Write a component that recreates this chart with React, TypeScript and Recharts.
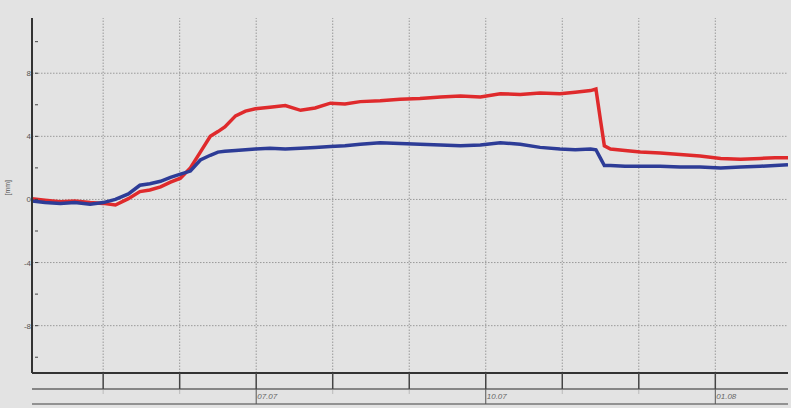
import { ComposedChart, Line, XAxis, YAxis, ReferenceLine } from 'recharts';

// time in days counted from 04.07 (1 = 05.07 ... 9 = 13.07)
const times = [
  0.07, 0.24, 0.44, 0.63, 0.83, 1.0, 1.16, 1.33, 1.48, 1.61, 1.75, 1.88, 2.01, 2.14, 2.27, 2.4, 2.5, 2.59,
  2.73, 2.86, 2.99, 3.18, 3.38, 3.58, 3.77, 3.97, 4.16, 4.36, 4.62, 4.88, 5.14, 5.41, 5.67, 5.93, 6.19,
  6.45, 6.71, 6.97, 7.17, 7.37, 7.44, 7.5, 7.55, 7.63, 7.82, 8.02, 8.28, 8.54, 8.8, 9.07, 9.33, 9.59,
  9.78, 9.95,
];
const redSeries = [
  0.05, -0.05, -0.15, -0.1, -0.2, -0.25, -0.35, 0.05, 0.5, 0.6, 0.8, 1.1, 1.35, 2.0, 3.0, 4.0, 4.3, 4.6,
  5.3, 5.6, 5.75, 5.85, 5.95, 5.65, 5.8, 6.1, 6.05, 6.2, 6.25, 6.35, 6.4, 6.5, 6.55, 6.5, 6.7,
  6.65, 6.75, 6.7, 6.8, 6.9, 7.0, 5.0, 3.4, 3.2, 3.1, 3.0, 2.95, 2.85, 2.75, 2.6, 2.55, 2.6,
  2.65, 2.65,
];
const blueSeries = [
  -0.1, -0.2, -0.25, -0.2, -0.3, -0.2, 0.0, 0.35, 0.9, 1.0, 1.15, 1.4, 1.6, 1.8, 2.5, 2.8, 3.0, 3.05,
  3.1, 3.15, 3.2, 3.25, 3.2, 3.25, 3.3, 3.35, 3.4, 3.5, 3.6, 3.55, 3.5, 3.45, 3.4, 3.45, 3.6,
  3.5, 3.3, 3.2, 3.15, 3.2, 3.15, 2.6, 2.15, 2.15, 2.1, 2.1, 2.1, 2.05, 2.05, 2.0, 2.05, 2.1,
  2.15, 2.2,
];
const dayTicks = [1, 2, 3, 4, 5, 6, 7, 8, 9];
const dayLabels: Record<number, string> = { 3: '07.07', 6: '10.07', 9: '01.08' };
const yTicks = [-10, -8, -6, -4, -2, 0, 2, 4, 6, 8, 10];
const yGrid = [-8, -4, 0, 4, 8];

const data = times.map((t, i) => ({ t, red: redSeries[i], blue: blueSeries[i] }));

const FONT = '"Liberation Sans", Arial, sans-serif';
const X_DOMAIN = [0.07, 9.95];

const YTick = ({ x, y, payload }: any) => {
  const v = payload.value;
  return (
    <g>
      <line x1={x + 3} x2={x + 6} y1={y} y2={y} stroke="#444" strokeWidth={1} />
      {v % 4 === 0 && (
        <text x={x - 1} y={y + 3} textAnchor="end" fontSize={8} fill="#555" fontFamily={FONT}>
          {v}
        </text>
      )}
    </g>
  );
};

const RowTick = ({ x, y }: any) => (
  <line x1={x} x2={x} y1={y} y2={y + 16} stroke="#444" strokeWidth={1.5} />
);

const LabelTick = ({ x, y, payload }: any) => {
  const label = dayLabels[payload.value];
  return (
    <g>
      {label ? (
        <>
          <line x1={x} x2={x} y1={y} y2={y + 15} stroke="#555" strokeWidth={1} />
          <text x={x + 1} y={y + 10} fontSize={8} fill="#666" fontStyle="italic" fontFamily={FONT}>
            {label}
          </text>
        </>
      ) : (
        <line x1={x} x2={x} y1={y + 1} y2={y + 5} stroke="#bbb" strokeWidth={1} />
      )}
    </g>
  );
};

export default function App() {
  return (
    <div style={{ position: 'absolute', left: 0, top: 0, width: 791, height: 408, background: '#e3e3e3' }}>
      <ComposedChart width={791} height={408} data={data} margin={{ top: 18, right: 3, bottom: 2, left: 6 }}>
        {dayTicks.map((d) => (
          <ReferenceLine key={'v' + d} x={d} xAxisId="a" stroke="#9a9a9a" strokeDasharray="1.5 1.5" />
        ))}
        {yGrid.map((v) => (
          <ReferenceLine key={'h' + v} y={v} xAxisId="a" stroke="#9a9a9a" strokeDasharray="1.5 1.5" />
        ))}
        {/* axes stack by id: a = tick row, b = label row, c = bottom rule */}
        <XAxis
          xAxisId="a"
          dataKey="t"
          type="number"
          domain={X_DOMAIN}
          ticks={dayTicks}
          height={16}
          tickSize={0}
          tickMargin={0}
          tickLine={false}
          axisLine={{ stroke: '#333', strokeWidth: 2 }}
          tick={<RowTick />}
          allowDataOverflow
        />
        <XAxis
          xAxisId="b"
          dataKey="t"
          type="number"
          domain={X_DOMAIN}
          ticks={dayTicks}
          height={15}
          tickSize={0}
          tickMargin={0}
          tickLine={false}
          axisLine={{ stroke: '#666', strokeWidth: 1.5 }}
          tick={<LabelTick />}
          allowDataOverflow
        />
        <XAxis
          xAxisId="c"
          dataKey="t"
          type="number"
          domain={X_DOMAIN}
          height={2}
          tick={false}
          tickLine={false}
          axisLine={{ stroke: '#777', strokeWidth: 1.5 }}
          allowDataOverflow
        />
        <YAxis
          type="number"
          domain={[-11, 11.5]}
          ticks={yTicks}
          width={26}
          tickSize={0}
          tickMargin={0}
          tickLine={false}
          axisLine={{ stroke: '#333', strokeWidth: 2 }}
          tick={<YTick />}
          allowDataOverflow
          label={{ value: '[mm]', angle: -90, position: 'insideLeft', offset: 2, fontSize: 7, fill: '#555', fontFamily: FONT }}
        />
        <Line
          xAxisId="a"
          dataKey="red"
          stroke="#df2a2c"
          strokeWidth={3.5}
          dot={false}
          type="linear"
          isAnimationActive={false}
        />
        <Line
          xAxisId="a"
          dataKey="blue"
          stroke="#2d3c97"
          strokeWidth={3.5}
          dot={false}
          type="linear"
          isAnimationActive={false}
        />
      </ComposedChart>
    </div>
  );
}
